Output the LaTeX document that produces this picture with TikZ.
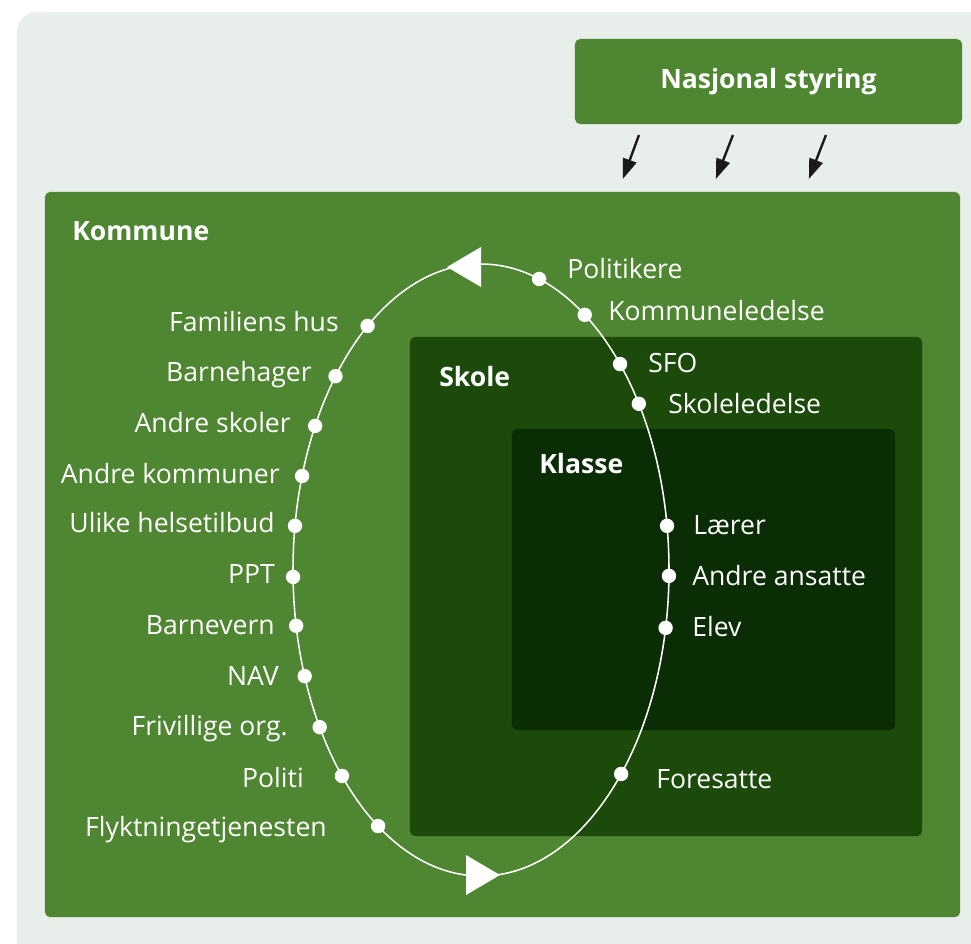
\documentclass[tikz,border=0pt]{standalone}
\usepackage{fontspec}
\setmainfont{Open Sans}
\usepackage{xcolor}
\usetikzlibrary{arrows.meta}

\definecolor{bakgrunn}{HTML}{E8EEEA}
\definecolor{kommunegronn}{HTML}{4F8632}
\definecolor{skolegronn}{HTML}{1B4A0B}
\definecolor{klassegronn}{HTML}{0A2D05}
\definecolor{pilfarge}{HTML}{1A1A1A}

\begin{document}
\begin{tikzpicture}[x=0.025cm, y=-0.025cm,
          boks/.style={rounded corners=0.13cm, inner sep=0, outer sep=0},
          tittel/.style={text=white, inner sep=0, font=\fontsize{18.9}{22}\selectfont\bfseries},
          etikett/.style={text=white, inner sep=0, font=\fontsize{18.9}{22}\selectfont},
          punkt/.style={circle, fill=white, minimum size=0.36cm, inner sep=0},
          pil/.style={draw=pilfarge, line width=0.06cm, -{Triangle[length=0.5cm, width=0.35cm]}},
        ]
          \useasboundingbox (0,0) rectangle (971,943);
          \fill[bakgrunn, rounded corners=0.5cm] (17,12) rectangle (1000,980);

          % boksene
          \node[boks, fill=kommunegronn, minimum width=9.675cm, minimum height=2.125cm] (nasjonal) at (768.5,81.5) {};
          \node[tittel] (nasjonaltekst) at (nasjonal) {Nasjonal styring};
          \node[boks, fill=kommunegronn, minimum width=22.875cm, minimum height=18.125cm] (kommune) at (502.5,554.5) {};
          \node[boks, fill=skolegronn, minimum width=12.8cm, minimum height=12.475cm] (skole) at (666,586.5) {};
          \node[boks, fill=klassegronn, minimum width=9.575cm, minimum height=7.525cm] (klasse) at (703.5,579.5) {};
          \node[tittel, anchor=base west] (kommunetekst) at (72,240) {Kommune};
          \node[tittel, anchor=base west] (skoletekst) at (439,386) {Skole};
          \node[tittel, anchor=base west] (klassetekst) at (539,473) {Klasse};

          % piler fra nasjonal styring
          \draw[pil] ([shift={(64,11)}]nasjonal.south west) -- ([shift={(578,-13)}]kommune.north west);
          \draw[pil] ([shift={(158,11)}]nasjonal.south west) -- ([shift={(671,-13)}]kommune.north west);
          \draw[pil] ([shift={(251,11)}]nasjonal.south west) -- ([shift={(764,-13)}]kommune.north west);

          % sirkelen
          \draw[white, line width=1.1pt] (481,570) ellipse [x radius=188, y radius=306];
          \fill[white] (481,247) -- (481,287) -- (447,267) -- cycle;
          \fill[white] (466,855) -- (466,895) -- (500,875) -- cycle;

          \begin{scope}[shift={(481,570)}]
            \node[punkt] (pPolitikere) at (-72:188 and 306) {};
            \node[punkt] (pKommuneledelse) at (-56.5:188 and 306) {};
            \node[punkt] (pSFO) at (-42.3:188 and 306) {};
            \node[punkt] (pSkoleledelse) at (-32.9:188 and 306) {};
            \node[punkt] (pLaerer) at (-8.3:188 and 306) {};
            \node[punkt] (pAnsatte) at (1.1:188 and 306) {};
            \node[punkt] (pElev) at (10.9:188 and 306) {};
            \node[punkt] (pForesatte) at (41.8:188 and 306) {};
            \node[punkt] (pFamiliens) at (232.9:188 and 306) {};
            \node[punkt] (pBarnehager) at (219.3:188 and 306) {};
            \node[punkt] (pSkoler) at (208.1:188 and 306) {};
            \node[punkt] (pKommuner) at (197.9:188 and 306) {};
            \node[punkt] (pHelse) at (188.3:188 and 306) {};
            \node[punkt] (pPPT) at (178.7:188 and 306) {};
            \node[punkt] (pBarnevern) at (169.5:188 and 306) {};
            \node[punkt] (pNAV) at (159.7:188 and 306) {};
            \node[punkt] (pFrivillige) at (149.1:188 and 306) {};
            \node[punkt] (pPoliti) at (137.7:188 and 306) {};
            \node[punkt] (pFlyktning) at (123.2:188 and 306) {};
          \end{scope}

          % tekst til hoyre
          \node[etikett, anchor=base west] (tPolitikere) at (567,278) {Politikere};
          \node[etikett, anchor=base west] (tKommuneledelse) at (608,320) {Kommuneledelse};
          \node[etikett, anchor=base west] (tSFO) at (648,372) {SFO};
          \node[etikett, anchor=base west] (tSkoleledelse) at (668,413) {Skoleledelse};
          \node[etikett, anchor=base west] (tLaerer) at (693,534) {Lærer};
          \node[etikett, anchor=base west] (tAnsatte) at (692,585) {Andre ansatte};
          \node[etikett, anchor=base west] (tElev) at (692,636) {Elev};
          \node[etikett, anchor=base west] (tForesatte) at (656,788) {Foresatte};

          % tekst til venstre
          \node[etikett, anchor=base east] (tFamiliens) at (339,331) {Familiens hus};
          \node[etikett, anchor=base east] (tBarnehager) at (312,381) {Barnehager};
          \node[etikett, anchor=base east] (tSkoler) at (291,432) {Andre skoler};
          \node[etikett, anchor=base east] (tKommuner) at (280,483) {Andre kommuner};
          \node[etikett, anchor=base east] (tHelse) at (275,532) {Ulike helsetilbud};
          \node[etikett, anchor=base east] (tPPT) at (275,583) {PPT};
          \node[etikett, anchor=base east] (tBarnevern) at (275,634) {Barnevern};
          \node[etikett, anchor=base east] (tNAV) at (279,685) {NAV};
          \node[etikett, anchor=base east] (tFrivillige) at (288,735) {Frivillige org.};
          \node[etikett, anchor=base east] (tPoliti) at (304,787) {Politi};
          \node[etikett, anchor=base east] (tFlyktning) at (327,836) {Flyktningetjenesten};
        \end{tikzpicture}
\end{document}
